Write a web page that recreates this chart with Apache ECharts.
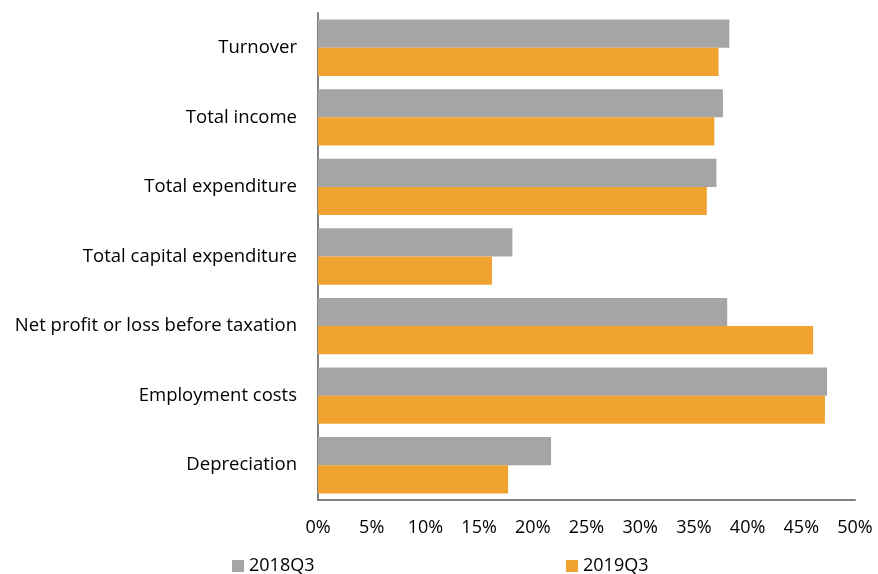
<!DOCTYPE html>
<html>
<head>
<meta charset="utf-8">
<script src="https://cdn.jsdelivr.net/npm/echarts@6/dist/echarts.min.js"></script>
<style>
  html, body { margin: 0; padding: 0; background: #fff; }
  #chart { width: 878px; height: 574px; }
</style>
</head>
<body>
<div id="chart"></div>
<script>
// Indicator categories, top to bottom
const categories = [
  'Turnover',
  'Total income',
  'Total expenditure',
  'Total capital expenditure',
  'Net profit or loss before taxation',
  'Employment costs',
  'Depreciation'
];

// Share (%) per indicator for each quarter
const values2018Q3 = [38.3, 37.7, 37.1, 18.1, 38.1, 47.4, 21.7];
const values2019Q3 = [37.3, 36.9, 36.2, 16.2, 46.1, 47.2, 17.7];

const seriesNames = ['2018Q3', '2019Q3'];
const xTicks = { min: 0, max: 50, step: 5 };

const FONT = '"Open Sans", Lato, sans-serif';
const GREY = '#A5A5A5';
const ORANGE = '#F0A330';

const chart = echarts.init(document.getElementById('chart'), null, { renderer: 'canvas' });

const legendText = { fontFamily: FONT, fontSize: 18, color: '#000' };

chart.setOption({
  animation: false,
  textStyle: { fontFamily: FONT },
  grid: { left: 318, right: 23, top: 13, bottom: 74, containLabel: false },
  legend: [
    {
      data: [seriesNames[0]],
      left: 227, top: 552,
      itemWidth: 12, itemHeight: 12, icon: 'rect',
      textStyle: legendText
    },
    {
      data: [seriesNames[1]],
      left: 561, top: 552,
      itemWidth: 12, itemHeight: 12, icon: 'rect',
      textStyle: legendText
    }
  ],
  xAxis: {
    type: 'value',
    min: xTicks.min, max: xTicks.max, interval: xTicks.step,
    axisLine: { show: true, lineStyle: { color: '#808080', width: 2 } },
    axisTick: { show: false },
    splitLine: { show: false },
    axisLabel: {
      formatter: '{value}%',
      fontFamily: FONT, fontSize: 18, color: '#000', margin: 19
    }
  },
  yAxis: {
    type: 'category',
    data: categories,
    inverse: true,
    axisLine: { show: true, lineStyle: { color: '#808080', width: 2 } },
    axisTick: { show: false },
    axisLabel: {
      fontFamily: FONT, fontSize: 18.5, color: '#000', margin: 21
    }
  },
  series: [
    {
      name: seriesNames[0],
      type: 'bar',
      data: values2018Q3,
      itemStyle: { color: GREY },
      barGap: '0%',
      barCategoryGap: '19%'
    },
    {
      name: seriesNames[1],
      type: 'bar',
      data: values2019Q3,
      itemStyle: { color: ORANGE },
      barGap: '0%',
      barCategoryGap: '19%'
    }
  ]
});
</script>
</body>
</html>
